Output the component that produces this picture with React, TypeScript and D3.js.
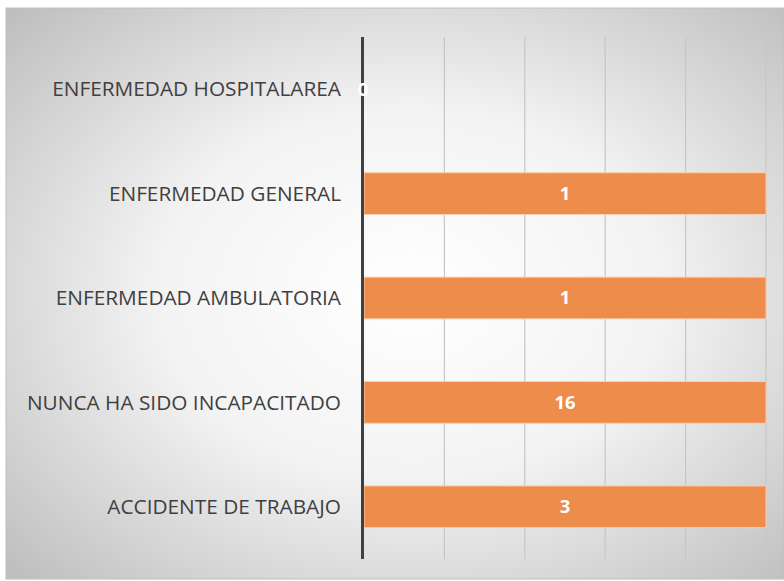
import React, { useEffect, useRef } from "react";
import * as d3 from "d3";

const categories = [
  "ENFERMEDAD HOSPITALAREA",
  "ENFERMEDAD GENERAL",
  "ENFERMEDAD AMBULATORIA",
  "NUNCA HA SIDO INCAPACITADO",
  "ACCIDENTE DE TRABAJO",
];
const values = [0, 1, 1, 16, 3];
const xTicks = [0, 0.2, 0.4, 0.6, 0.8, 1];

function App() {
  const svgRef = useRef<SVGSVGElement>(null);

  useEffect(() => {
    const svg = d3.select(svgRef.current);
    svg.selectAll("*").remove();

    const width = 784;
    const height = 581;
    const margin = { top: 37, right: 18, bottom: 22, left: 364 };

    // background with radial gradient
    const defs = svg.append("defs");
    const grad = defs
      .append("radialGradient")
      .attr("id", "bg")
      .attr("cx", 0.52)
      .attr("cy", 0.5)
      .attr("r", 0.72);
    grad.append("stop").attr("offset", 0).attr("stop-color", "#ffffff");
    grad.append("stop").attr("offset", 0.45).attr("stop-color", "#f3f3f3");
    grad.append("stop").attr("offset", 1).attr("stop-color", "#bdbdbd");

    svg
      .append("rect")
      .attr("x", 6)
      .attr("y", 8)
      .attr("width", width - 6)
      .attr("height", 571)
      .attr("fill", "url(#bg)")
      .attr("stroke", "#bfbfbf")
      .attr("stroke-width", 1);

    const xScale = d3
      .scaleLinear()
      .domain([0, 1])
      .range([margin.left, width - margin.right])
      .clamp(true);

    const yScale = d3
      .scaleBand()
      .domain(categories)
      .range([margin.top, height - margin.bottom])
      .paddingInner(0.6)
      .paddingOuter(0.3);

    // gridlines
    svg
      .append("g")
      .selectAll("line")
      .data(xTicks.slice(1))
      .join("line")
      .attr("x1", (d) => xScale(d))
      .attr("x2", (d) => xScale(d))
      .attr("y1", margin.top)
      .attr("y2", height - margin.bottom)
      .attr("stroke", "#c6c6c6")
      .attr("stroke-width", 1.2);

    // bars
    svg
      .append("g")
      .selectAll("rect")
      .data(values)
      .join("rect")
      .attr("x", xScale(0))
      .attr("y", (d, i) => yScale(categories[i])!)
      .attr("width", (d) => xScale(d) - xScale(0))
      .attr("height", yScale.bandwidth())
      .attr("fill", "#ee8c4c")
      .attr("stroke", "#f9d0b2")
      .attr("stroke-width", 1);

    // axis line
    svg
      .append("line")
      .attr("x1", xScale(0) - 1.5)
      .attr("x2", xScale(0) - 1.5)
      .attr("y1", margin.top)
      .attr("y2", height - margin.bottom)
      .attr("stroke", "#404040")
      .attr("stroke-width", 3);

    // category labels
    svg
      .append("g")
      .selectAll("text")
      .data(categories)
      .join("text")
      .attr("x", margin.left - 23)
      .attr("y", (d) => yScale(d)! + yScale.bandwidth() / 2)
      .attr("dy", "0.35em")
      .attr("text-anchor", "end")
      .attr("fill", "#404040")
      .style("font-family", "'Open Sans', sans-serif")
      .style("font-size", "20.8px")
      .text((d) => d);

    // value labels
    svg
      .append("g")
      .selectAll("text")
      .data(values)
      .join("text")
      .attr("x", (d) => (xScale(0) + xScale(d)) / 2 - (d === 0 ? 1 : 0))
      .attr("y", (d, i) => yScale(categories[i])! + yScale.bandwidth() / 2)
      .attr("dy", "0.35em")
      .attr("text-anchor", "middle")
      .attr("fill", "#ffffff")
      .style("font-family", "'Open Sans', sans-serif")
      .style("font-weight", "bold")
      .style("font-size", "18.5px")
      .text((d) => d);
  }, []);

  return (
    <svg
      ref={svgRef}
      width={784}
      height={581}
      style={{ position: "absolute", left: 0, top: 0 }}
    />
  );
}

export default App;
